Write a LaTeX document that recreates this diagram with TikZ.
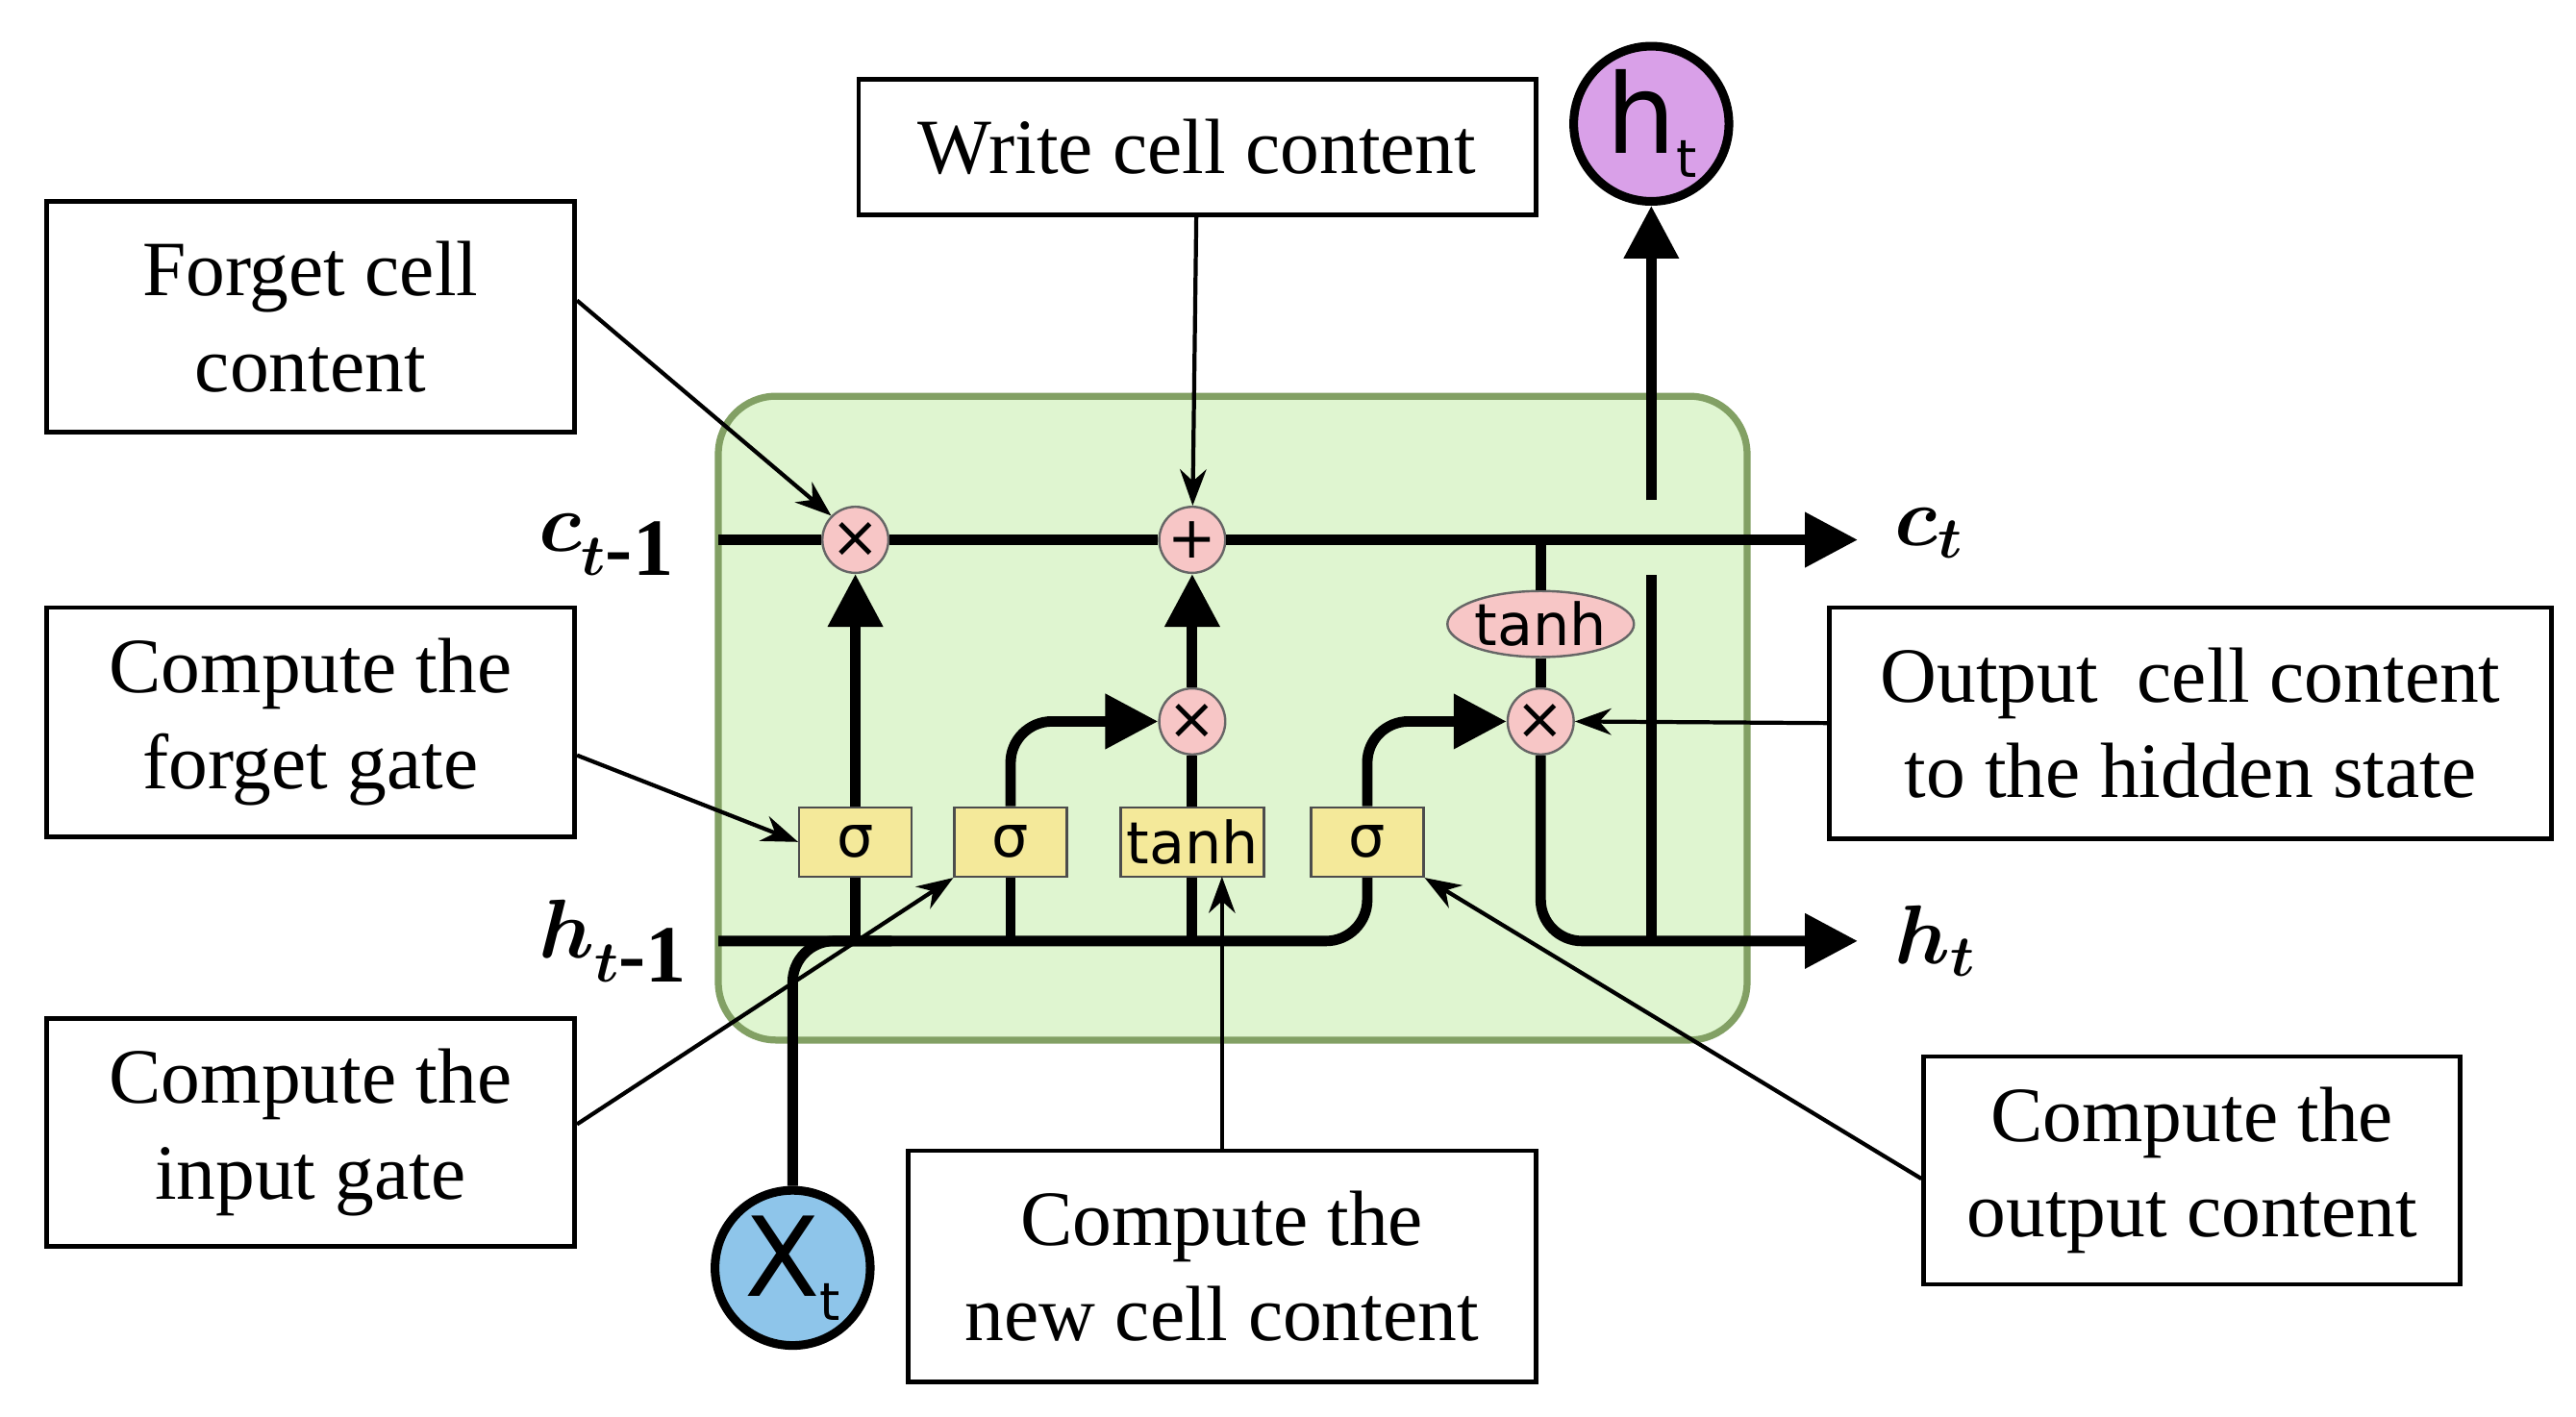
\documentclass[tikz,border=0pt]{standalone}
\usepackage{fontspec}
\usepackage{bm}
\setmainfont{Liberation Serif}
\newfontfamily\gatefont{DejaVu Sans}
\usetikzlibrary{arrows.meta,positioning,shapes.geometric}

\begin{document}
\begin{tikzpicture}[
    thick line/.style={line width=1.8pt},
    big arrow/.style={thick line,-{Triangle[length=0.32cm,width=0.32cm]}},
    thin arrow/.style={line width=0.7pt,-{Stealth[length=0.22cm,width=0.16cm]}},
    gate/.style={draw=black!70,fill={rgb,255:red,244;green,233;blue,154},minimum width=0.68cm,minimum height=0.42cm,inner sep=1pt,font=\gatefont\fontsize{10}{11}\selectfont},
    op/.style={circle,draw=black!60,fill={rgb,255:red,247;green,198;blue,198},minimum size=0.4cm,inner sep=0pt,font=\gatefont\fontsize{10}{11}\selectfont},
    io/.style={circle,draw=black,line width=1.5pt,minimum size=0.94cm,inner sep=0pt,font=\gatefont\fontsize{19}{20}\selectfont},
    info/.style={draw,line width=0.8pt,fill=white,align=center,font=\fontsize{13.5}{16.5}\selectfont},
    state label/.style={font=\fontsize{14}{16}\selectfont}]
  \useasboundingbox (0,0) rectangle (15.6,8.58);

  % cell
  \draw[line width=1.2pt,draw={rgb,255:red,130;green,160;blue,100},fill={rgb,255:red,223;green,245;blue,208},rounded corners=0.35cm]
    (4.35,2.28) rectangle (10.58,6.18);

  % gates and pointwise ops
  \node[gate] (f) at (5.18,3.48) {σ};
  \node[gate] (i) at (6.12,3.48) {σ};
  \node[gate] (g) at (7.22,3.48) {tanh};
  \node[gate] (o) at (8.28,3.48) {σ};
  \node[op] (mf) at (5.18,5.31) {×};
  \node[op] (add) at (7.22,5.31) {+};
  \node[op] (mi) at (7.22,4.21) {×};
  \node[op] (mo) at (9.33,4.21) {×};
  \node[ellipse,draw=black!60,fill={rgb,255:red,247;green,198;blue,198},minimum width=0.95cm,minimum height=0.4cm,inner sep=0pt,font=\gatefont\fontsize{10}{11}\selectfont] (th) at (9.33,4.80) {tanh};

  \node[io,fill={rgb,255:red,142;green,197;blue,234}] (xt) at (4.80,0.90) {X\raisebox{-0.4ex}{\fontsize{9}{9}\selectfont t}};
  \node[io,fill={rgb,255:red,217;green,160;blue,232}] (ht) at (10.00,7.83) {h\raisebox{-0.4ex}{\fontsize{9}{9}\selectfont t}};

  \coordinate (cin) at (4.35,5.31);
  \coordinate (cout) at (11.25,5.31);
  \coordinate (hin) at (4.35,2.88);
  \coordinate (hout) at (11.25,2.88);

  % cell state and hidden state
  \draw[big arrow] (cin) -- (mf) -- (add) -- (cout);
  \draw[thick line] (9.33,5.31) -- (th) -- (mo);
  \draw[thick line,rounded corners=0.25cm] (hin) -| (o.south);
  \draw[thick line] (f.south) -- (5.18,2.88) (i.south) -- (6.12,2.88) (g.south) -- (7.22,2.88);
  \draw[thick line,rounded corners=0.25cm] (xt.north) |- (5.4,2.88);
  \draw[big arrow,rounded corners=0.25cm] (mo) |- (hout);
  \draw[thick line] (10.00,2.88) -- (10.00,5.1);
  \draw[big arrow] (10.00,5.55) -- (ht.south);

  % gate outputs
  \draw[big arrow] (f) -- (mf);
  \draw[big arrow,rounded corners=0.25cm] (i.north) |- (mi);
  \draw[thick line] (g) -- (mi);
  \draw[big arrow] (mi) -- (add);
  \draw[big arrow,rounded corners=0.25cm] (o.north) |- (mo);

  \node[state label,anchor=east] (clab) at (4.22,5.28) {$\bm{c}_{\bm{t}\textbf{-1}}$};
  \node[state label,anchor=west] (ctlab) at (11.35,5.35) {$\bm{c}_{\bm{t}}$};
  \node[state label,anchor=east] (hlab) at (4.30,2.88) {$\bm{h}_{\bm{t}\textbf{-1}}$};
  \node[state label,anchor=west] (htlab) at (11.35,2.88) {$\bm{h}_{\bm{t}}$};

  % explanations
  \node[info,minimum width=3.2cm,minimum height=1.4cm] (forget) at (1.88,6.66) {Forget cell\\content};
  \node[info,minimum width=4.1cm,minimum height=0.82cm] (write) at (7.25,7.69) {Write cell content};
  \node[info,minimum width=3.2cm,minimum height=1.39cm] (fgate) at (1.88,4.205) {Compute the\\forget gate};
  \node[info,minimum width=3.2cm,minimum height=1.38cm] (igate) at (1.88,1.72) {Compute the\\input gate};
  \node[info,minimum width=3.8cm,minimum height=1.4cm] (newc) at (7.40,0.91) {Compute the\\new cell content};
  \node[info,minimum width=4.37cm,minimum height=1.4cm] (outc) at (13.265,4.20) {Output\ \ cell content\\to the hidden state};
  \node[info,minimum width=3.25cm,minimum height=1.38cm] (ogate) at (13.275,1.49) {Compute the\\output content};

  \draw[thin arrow] (forget.east) ++(0,0.1) -- (mf.north west);
  \draw[thin arrow] (write) -- (add);
  \draw[thin arrow] (fgate.east) ++(0,-0.2) -- (f.west);
  \draw[thin arrow] (igate.east) ++(0,0.05) -- (i.south west);
  \draw[thin arrow] (newc.north) -- (7.40,3.27);
  \draw[thin arrow] (outc.west) -- (mo.east);
  \draw[thin arrow] (ogate.west) ++(0,-0.05) -- (o.south east);
\end{tikzpicture}
\end{document}
